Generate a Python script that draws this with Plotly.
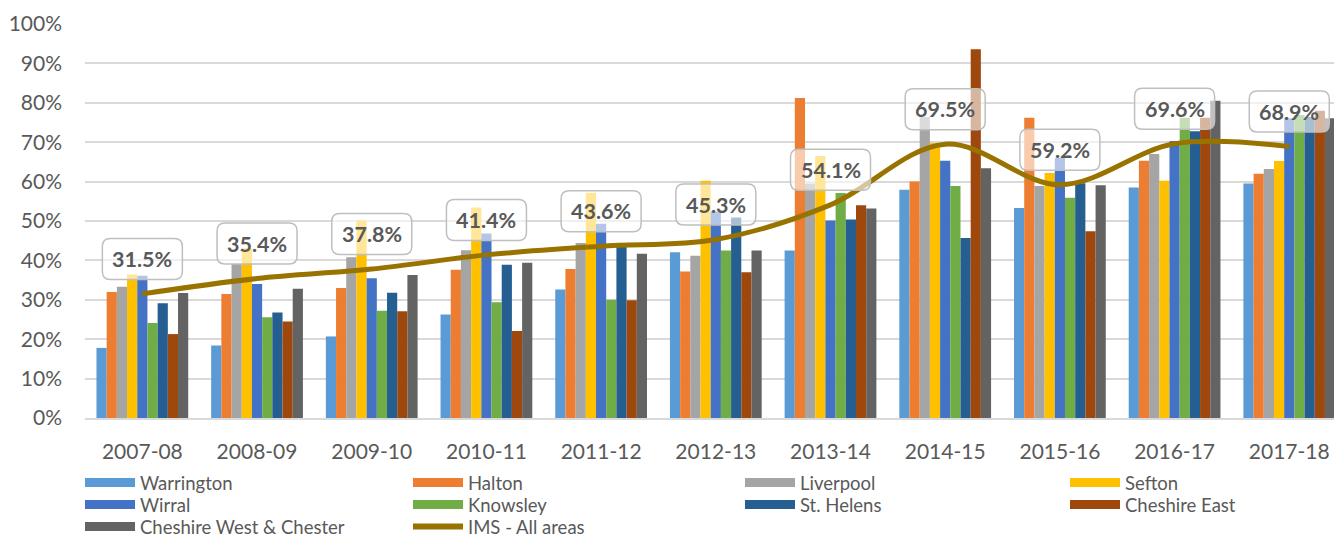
import plotly.graph_objects as go

categories = ['2007-08', '2008-09', '2009-10', '2010-11', '2011-12', '2012-13',
              '2013-14', '2014-15', '2015-16', '2016-17', '2017-18']

warrington = [17.8, 18.4, 20.7, 26.3, 32.6, 42.1, 42.5, 57.9, 53.3, 58.5, 59.5]
halton = [32.0, 31.5, 33.0, 37.6, 37.8, 37.2, 81.2, 60.0, 76.2, 65.3, 62.0]
liverpool = [33.3, 39.1, 40.8, 42.6, 44.4, 41.2, 59.5, 76.4, 58.9, 67.0, 63.2]
sefton = [36.4, 43.1, 50.1, 53.4, 57.2, 60.2, 66.5, 69.8, 62.2, 60.2, 65.2]
wirral = [36.1, 34.0, 35.5, 46.8, 49.3, 52.4, 50.1, 65.3, 66.0, 70.3, 76.1]
knowsley = [24.1, 25.6, 27.2, 29.4, 30.0, 42.5, 57.1, 58.9, 55.9, 76.2, 76.9]
st_helens = [29.1, 26.8, 31.8, 38.9, 44.0, 50.9, 50.4, 45.7, 59.6, 72.8, 76.4]
cheshire_east = [21.3, 24.5, 27.1, 22.1, 29.9, 37.0, 54.0, 93.6, 47.4, 76.2, 78.0]
cheshire_west = [31.7, 32.8, 36.3, 39.4, 41.7, 42.5, 53.2, 63.4, 59.1, 80.5, 76.1]
ims_all = [31.5, 35.4, 37.8, 41.4, 43.6, 45.3, 54.1, 69.5, 59.2, 69.6, 68.9]

series_names = ['Warrington', 'Halton', 'Liverpool', 'Sefton', 'Wirral', 'Knowsley',
                'St. Helens', 'Cheshire East', 'Cheshire West & Chester']
series_values = [warrington, halton, liverpool, sefton, wirral, knowsley,
                 st_helens, cheshire_east, cheshire_west]
series_colors = ['#5B9BD5', '#ED7D31', '#A5A5A5', '#FFC000', '#4472C4', '#70AD47',
                 '#255E91', '#9E480E', '#636363']
ims_name = 'IMS - All areas'
ims_color = '#997300'

W, H = 1334, 536
FONT = 'Lato'
TXT = '#595959'

fig = go.Figure()

for name, vals, col in zip(series_names, series_values, series_colors):
    fig.add_trace(go.Bar(
        x=categories, y=[v / 100 for v in vals], name=name,
        marker=dict(color=col, line=dict(width=0)), showlegend=False,
    ))

fig.add_trace(go.Scatter(
    x=categories, y=[v / 100 for v in ims_all], name=ims_name, mode='lines',
    line=dict(color=ims_color, width=5, shape='spline', smoothing=1.0),
    showlegend=False,
))

# legend layout: 4 columns x 3 rows (Excel order, row-major)
legend_items = [(n, c, 9) for n, c in zip(series_names, series_colors)] + [(ims_name, ims_color, 6)]
col_x = [80, 408, 740, 1065]
row_y = [483, 505, 527]
legends = {}
for i, (name, col, lw) in enumerate(legend_items):
    lid = 'legend' if i == 0 else 'legend%d' % (i + 1)
    fig.add_trace(go.Scatter(
        x=[None], y=[None], name=name, mode='lines',
        line=dict(color=col, width=lw), legend=lid, showlegend=True,
    ))
    r, c = divmod(i, 4)
    legends[lid] = dict(
        x=col_x[c] / W, y=1 - row_y[r] / H, xref='container', yref='container',
        xanchor='left', yanchor='middle', orientation='v',
        bgcolor='rgba(0,0,0,0)', borderwidth=0, itemwidth=50,
        font=dict(family=FONT, size=18.5, color=TXT),
        itemclick=False, itemdoubleclick=False,
    )

# data labels: rounded boxes anchored at each IMS point
bw, bh, r_, off = 80, 41, 8, 35
def rounded_rect(w, h, r, cy):
    x0, x1 = -w / 2, w / 2
    y0, y1 = cy - h / 2, cy + h / 2
    return (f'M{x0 + r},{y0} L{x1 - r},{y0} Q{x1},{y0} {x1},{y0 + r} '
            f'L{x1},{y1 - r} Q{x1},{y1} {x1 - r},{y1} L{x0 + r},{y1} '
            f'Q{x0},{y1} {x0},{y1 - r} L{x0},{y0 + r} Q{x0},{y0} {x0 + r},{y0} Z')

for i, v in enumerate(ims_all):
    fig.add_shape(
        type='path', xref='x', yref='y', xsizemode='pixel', ysizemode='pixel',
        xanchor=i, yanchor=v / 100, path=rounded_rect(bw, bh, r_, off),
        line=dict(color='#BFBFBF', width=1.5), fillcolor='rgba(255,255,255,0.6)',
        layer='above',
    )
    fig.add_annotation(
        x=i, y=v / 100, text='<b>%.1f%%</b>' % v, showarrow=False,
        yshift=off, font=dict(family=FONT, size=21.5, color=TXT),
        xanchor='center', yanchor='middle',
    )

layout_kwargs = dict(
    width=W, height=H,
    margin=dict(l=85, r=0, t=24, b=117.5, pad=0, autoexpand=False),
    paper_bgcolor='white', plot_bgcolor='white',
    barmode='group', bargap=0.2, bargroupgap=0,
    font=dict(family=FONT, color=TXT),
    xaxis=dict(
        type='category', categoryorder='array', categoryarray=categories,
        range=[-0.5, 10.39], showgrid=False, showline=True, linecolor='#D9D9D9',
        linewidth=1.5, ticks='', tickfont=dict(family=FONT, size=21, color=TXT),
        ticklabelstandoff=14, fixedrange=True, automargin=False,
    ),
    yaxis=dict(
        range=[0, 1.0], tickvals=[i / 10 for i in range(11)], tickformat='.0%',
        showgrid=True, gridcolor='#D9D9D9', gridwidth=1.5, zeroline=False,
        showline=False, ticks='', tickfont=dict(family=FONT, size=21, color=TXT),
        ticklabelstandoff=22, fixedrange=True, automargin=False,
    ),
)
layout_kwargs.update(legends)
fig.update_layout(**layout_kwargs)

fig.write_html('out.html', config={'displayModeBar': False},
               post_script="document.body.style.margin='0';")
